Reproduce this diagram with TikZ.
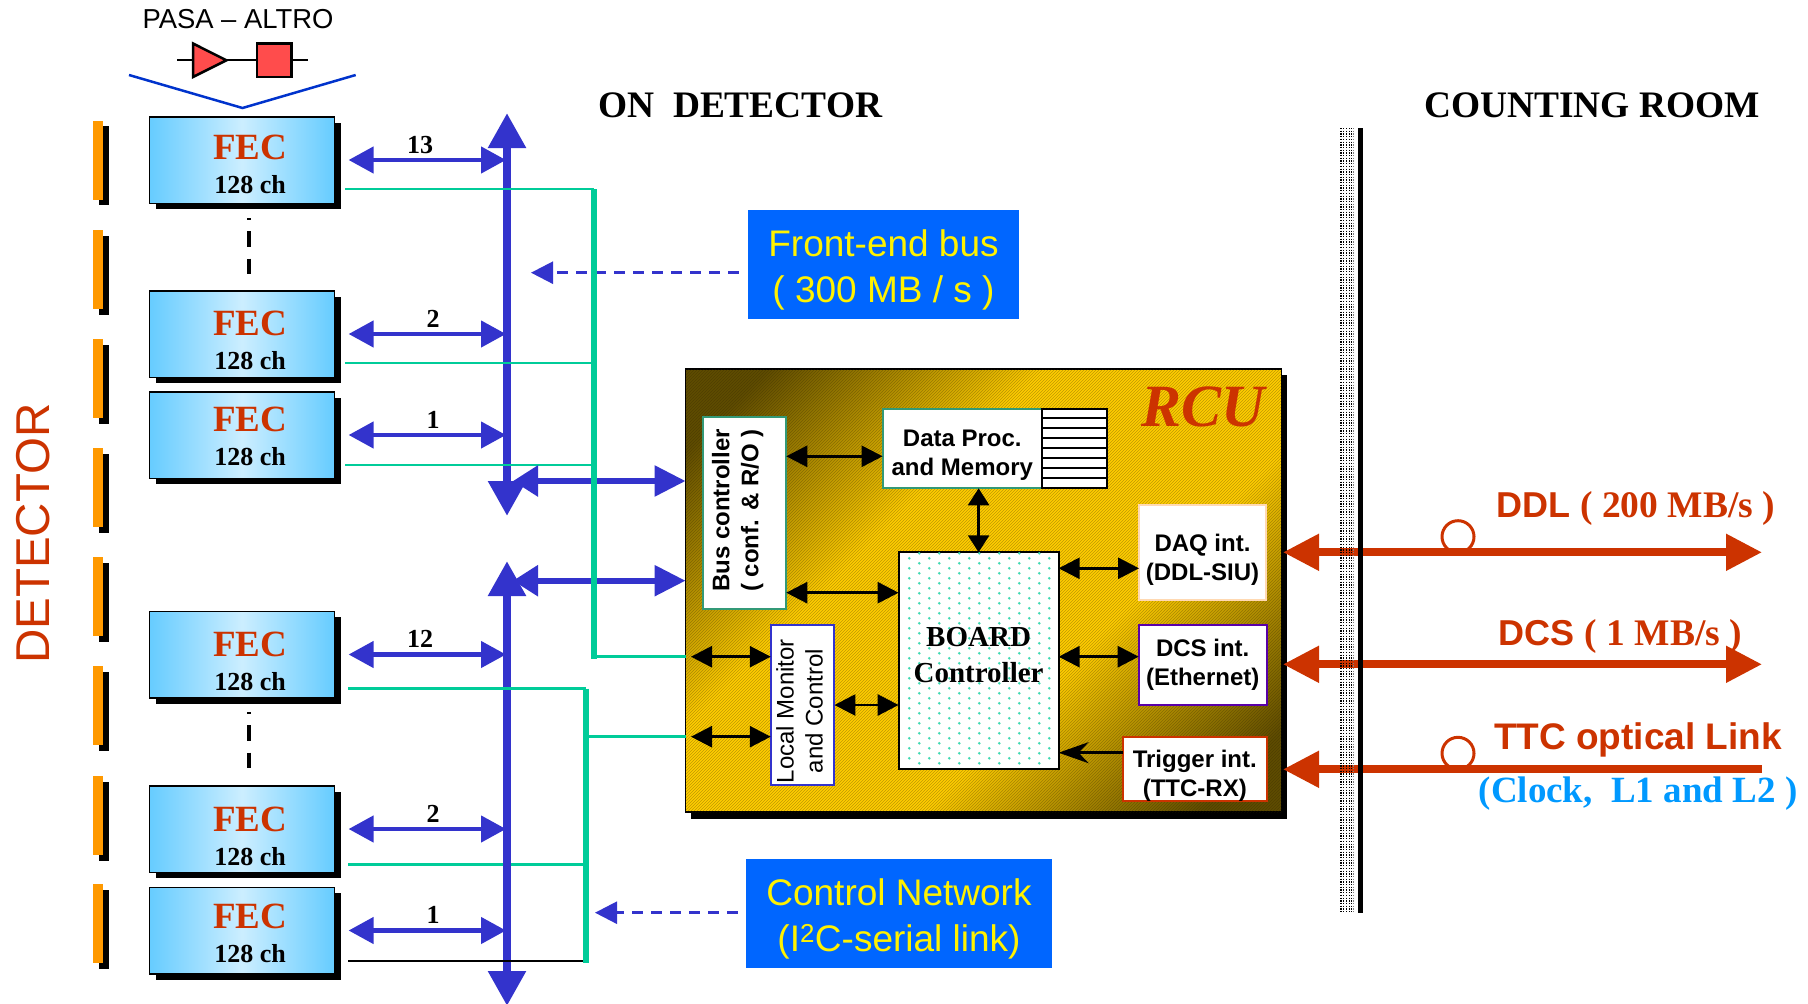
\documentclass[tikz,border=0pt]{standalone}
\usepackage{fontspec}
\setmainfont{Liberation Sans}
\newfontfamily\timesfont{Liberation Serif}
\usetikzlibrary{arrows.meta,patterns}
\definecolor{busblue}{HTML}{3333CC}
\definecolor{vblue}{HTML}{0033CC}
\definecolor{linkgreen}{HTML}{00CC99}
\definecolor{linkred}{HTML}{CC3300}
\definecolor{clockblue}{HTML}{0099FF}
\definecolor{stripeorange}{HTML}{FF9900}
\definecolor{boxblue}{HTML}{0066FF}
\definecolor{fecdeep}{HTML}{66CCFF}
\definecolor{feclight}{HTML}{CCEEFF}
\definecolor{rcugold}{HTML}{FFCC00}
\definecolor{rcudark}{HTML}{5F4C00}
\definecolor{boxgreen}{HTML}{339977}
\pgfdeclarehorizontalshading{rcugrad}{100bp}{color(0bp)=(rcudark); color(20bp)=(rcudark); color(39bp)=(rcugold); color(61bp)=(rcugold); color(80bp)=(rcudark); color(100bp)=(rcudark)}
\newcommand{\sizept}[2]{\fontsize{#1}{#2}\selectfont}
\begin{document}
\begin{tikzpicture}[x=1pt,y=-1pt,line join=miter]
\tikzstyle{fec box} = [draw=black,line width=1.5pt,minimum width=185pt,minimum height=86.5pt,inner sep=0pt,outer sep=0pt,left color=fecdeep,right color=fecdeep,middle color=feclight]
\tikzstyle{fec title} = [anchor=base,inner sep=0pt,text=linkred,font=\timesfont\bfseries\sizept{37}{40}]
\tikzstyle{fec ch} = [anchor=base,inner sep=0pt,font=\timesfont\bfseries\sizept{26}{30}]
\tikzstyle{count} = [anchor=base,inner sep=0pt,font=\timesfont\bfseries\sizept{26}{30}]
\tikzstyle{link arrow} = [busblue,line width=4.5pt,{Triangle[length=25pt,width=26pt]}-{Triangle[length=25pt,width=26pt]}]
\tikzstyle{main bus} = [busblue,line width=8.5pt,{Triangle[length=35pt,width=36pt]}-{Triangle[length=35pt,width=36pt]}]
\tikzstyle{rcu bus} = [busblue,line width=5.7pt,{Triangle[length=25pt,width=30pt]}-{Triangle[length=31pt,width=30pt]}]
\tikzstyle{thin green} = [linkgreen,line width=2.7pt]
\tikzstyle{thick green} = [linkgreen,line width=5.3pt]
\tikzstyle{dash arrow} = [busblue,line width=2.6pt,dash pattern=on 11pt off 8pt,-{Triangle[length=22pt,width=22pt]}]
\tikzstyle{info box} = [fill=boxblue,inner sep=0pt,minimum height=109pt]
\tikzstyle{info text} = [text=yellow,align=center,inner sep=0pt,font=\sizept{37}{46}]
\tikzstyle{white box} = [fill=white,draw,line width=2pt,inner sep=0pt,outer sep=0pt]
\tikzstyle{box text} = [align=center,inner sep=0pt,font=\bfseries\sizept{24}{29}]
\tikzstyle{black arrow} = [black,line width=2.7pt,{Triangle[length=21pt,width=21pt]}-{Triangle[length=21pt,width=21pt]}]
\tikzstyle{red arrow} = [linkred,line width=8pt,{Triangle[length=36pt,width=35pt]}-{Triangle[length=36pt,width=35pt]}]
\tikzstyle{ring} = [circle,draw=linkred,line width=3pt,minimum size=32pt,inner sep=0pt]
\tikzstyle{red label} = [anchor=base west,inner sep=0pt,text=linkred,font=\bfseries\sizept{37}{40}]
\useasboundingbox (0,0) rectangle (1808,1004);

% left side
\node[anchor=base,inner sep=0pt,font=\sizept{27.4}{30}] (pasa) at (238,28) {PASA -- ALTRO};
\coordinate (chainL) at (177,60.3);
\coordinate (chainR) at (307.5,60.3);
\draw[black,line width=2pt] (chainL) -- (chainR);
\draw[black,line width=2.5pt,fill=red!70!white] (193,43.5) -- (226.4,60.3) -- (193,77) -- cycle;
\draw[black,line width=2.5pt,fill=red!70!white] (257,43.5) rectangle (291.4,77);
\draw[vblue,line width=2.5pt] (129,75) -- (242.5,108) -- (355.7,75);
\node[rotate=90,anchor=base,inner sep=0pt,text=linkred,font=\sizept{47.5}{50}] (detector) at (49,533.5) {DETECTOR};

\foreach \t in {120.5,230,339,448,557,666,776,884} {
  \fill[black] (98.7,\t+5.5) rectangle +(10,79);
  \fill[stripeorange] (93.3,\t) rectangle +(10,79);
}

\coordinate (busAtop) at (507,113);
\coordinate (busAbot) at (507,516);
\coordinate (busBtop) at (507,561);
\coordinate (busBbot) at (507,1006);
\coordinate (trunkA) at (594,189);
\coordinate (trunkB) at (586,688.7);

\foreach \i/\cy/\ty/\num/\lx/\gx/\gy in {1/160/159/13/420/345/189,2/334/335/2/433/345/363,3/435/431.7/1/433/345/465,4/654.5/656/12/420/348/688.7,5/829/831.5/2/433/348/864.7,6/930.5/928.5/1/433/348/961} {
  \fill[black] (155.6,\cy-37.3) rectangle (340.6,\cy+49.3);
  \node[fec box] (fec\i) at (242,\cy) {};
  \node[fec title] (fectitle\i) at (250,\ty) {FEC};
  \node[fec ch] (fecch\i) at (250,\ty+34) {128 ch};
  \coordinate (linkL\i) at (348.6,\cy);
  \coordinate (linkR\i) at (506,\cy);
  \coordinate (gnd\i) at (\gx,\gy);
  \node[count] (num\i) at (\lx,\cy-7) {\num};
}
\draw[black,line width=3.6pt,dash pattern=on 15.7pt off 11.6pt,dash phase=14pt] (249,218) -- (249,277);
\draw[black,line width=3.6pt,dash pattern=on 15.7pt off 11.6pt,dash phase=14pt] (249,712) -- (249,771);

\node[info box,minimum width=271pt] (febus) at (883.5,264.5) {};
\node[info box,minimum width=306pt] (ctrlnet) at (899,913.5) {};
\node[info text] (febustext) at (883.5,270) {Front-end bus\\( 300 MB / s )};
\node[info text] (ctrlnettext) at (899,918.5) {Control Network\\(I\textsuperscript{2}C-serial link)};
\coordinate (febusTip) at (531,272.7);
\coordinate (ctrlnetTip) at (595,912.7);
\draw[dash arrow] ([xshift=-9pt]febus.west |- febusTip) -- (febusTip);
\draw[dash arrow] ([xshift=-8pt]ctrlnet.west |- ctrlnetTip) -- (ctrlnetTip);

\draw[thin green] (gnd5) -- (trunkB |- gnd5);
\draw[main bus] (busAtop) -- (busAbot);
\draw[main bus] (busBtop) -- (busBbot);
\foreach \i in {1,...,6} \draw[link arrow] (linkL\i) -- (linkR\i);
\foreach \i in {1,2,3} \draw[thin green] (gnd\i) -- (trunkA |- gnd\i);
\draw[thin green] (gnd4) -- (trunkB |- gnd4);
\draw[black,line width=2pt] (gnd6) -- (trunkB |- gnd6);

% RCU
\fill[black] (691,375) rectangle (1287,818.7);
\node[draw=black,line width=1.5pt,minimum width=596pt,minimum height=443pt,inner sep=0pt,outer sep=0pt,shading=rcugrad,shading angle=-45] (rcu) at (983.5,590.5) {};
\fill[pattern=north east lines,pattern color=black!55!rcudark,opacity=.3] (rcu.south west) rectangle (rcu.north east);
\node[anchor=base east,inner sep=0pt,text=linkred,font=\timesfont\bfseries\itshape\sizept{60}{62}] (rcutitle) at (1265,426) {RCU};

\coordinate (upA) at (513,481);
\coordinate (upB) at (513,580.7);
\draw[rcu bus] (upA) -- (rcu.west |- upA);
\draw[rcu bus] (upB) -- (rcu.west |- upB);
\coordinate (stubA) at (691,656.7);
\coordinate (stubB) at (691,736.7);

\draw[thick green] (trunkA) -- (trunkA |- 0,659.3);
\draw[thin green] (trunkA |- stubA) -- (rcu.west |- stubA);
\draw[thick green] (trunkB) -- (trunkB |- 0,962.7);
\draw[thin green] (trunkB |- stubB) -- (rcu.west |- stubB);

\node[white box,draw=boxgreen,rotate=90,minimum width=192pt,minimum height=83.3pt] (busctrl) at (744.6,512.7) {};
\node[box text,rotate=90,align=left] (busctrltext) at (737.6,510.5) {Bus controller\\( conf. \& R/O )};
\node[white box,draw=busblue,rotate=90,minimum width=160pt,minimum height=63.7pt] (local) at (802.6,705) {};
\node[box text,rotate=90,font=\sizept{24}{29}] (localtext) at (799.6,711) {Local Monitor\\and Control};
\node[white box,draw=boxgreen,minimum width=159.4pt,minimum height=79.6pt] (dataproc) at (962.3,448.5) {};
\node[box text] (dataproctext) at (962.3,455.5) {Data Proc.\\and Memory};
\node[draw=black,line width=2pt,fill=white,minimum width=64.7pt,minimum height=79.6pt,inner sep=0pt,outer sep=0pt] (memory) at (1074.4,448.5) {};
\foreach \y in {418.3,428.3,438.3,448.3,458.3,468.3,477.8} \draw[black,line width=1.8pt] (memory.west |- 0,\y) -- (memory.east |- 0,\y);
\node[draw=black,line width=2pt,fill=white,minimum width=160pt,minimum height=216.4pt,inner sep=0pt,outer sep=0pt] (board) at (978.6,660.5) {};
\foreach \yy [count=\r] in {553.3,558.3,...,766} {
  \pgfmathsetmacro{\xs}{isodd(\r)?919.3:909.3}
  \pgfmathsetmacro{\xn}{\xs+20}
  \foreach \xx in {\xs,\xn,...,1056} \fill[linkgreen!75!white] (\xx,\yy) circle (1.4pt);
}
\node[inner sep=0pt,align=center,font=\timesfont\bfseries\sizept{29}{35.7}] (boardtext) at (978.6,655) {BOARD\\Controller};
\node[white box,draw=orange!30!white,minimum width=127pt,minimum height=94.7pt] (daq) at (1202.5,552.3) {};
\node[box text] (daqtext) at (1202.5,559.3) {DAQ int.\\(DDL-SIU)};
\node[white box,draw=violet!70!blue,minimum width=128pt,minimum height=80pt] (dcs) at (1202.7,664.7) {};
\node[box text] (dcstext) at (1202.7,665) {DCS int.\\(Ethernet)};
\node[white box,draw=linkred,minimum width=143.7pt,minimum height=63.7pt] (trigger) at (1194.8,769) {};
\node[box text] (triggertext) at (1194.8,776) {Trigger int.\\(TTC-RX)};

\draw[black arrow] (busctrl.south |- 0,456.3) -- (dataproc.west |- 0,456.3);
\draw[black arrow,{Triangle[length=17pt,width=21pt]}-{Triangle[length=17pt,width=21pt]}] (board.north |- dataproc.south) -- (board.north);
\draw[black arrow] (busctrl.south |- 0,592.7) -- (board.west |- 0,592.7);
\draw[black arrow] (board.east |- 0,568.3) -- (daq.west |- 0,568.3);
\draw[black arrow] (board.east |- 0,656.7) -- (dcs.west |- 0,656.7);
\draw[black arrow] (local.south |- 0,705) -- (board.west |- 0,705);
\draw[black arrow] (stubA) -- (local.north |- stubA);
\draw[black arrow] (stubB) -- (local.north |- stubB);
\draw[black,line width=2.7pt,-{Stealth[length=30pt,width=21pt,inset=10pt]}] (trigger.west |- 0,752.7) -- (board.east |- 0,752.7);

% right side
\node[anchor=base west,inner sep=0pt,font=\timesfont\bfseries\sizept{37.4}{40}] (ondet) at (598,117) {ON\ \ DETECTOR};
\node[anchor=base west,inner sep=0pt,font=\timesfont\bfseries\sizept{37.4}{40}] (room) at (1424,117) {COUNTING ROOM};

\node[ring] (ddlring) at (1458,536.7) {};
\node[ring] (ttcring) at (1458,753.3) {};
\coordinate (ddlL) at (1283,552.3);
\coordinate (dcsL) at (1283,664.3);
\coordinate (ttcL) at (1283,769.3);
\coordinate (ddlR) at (1762,552.3);
\coordinate (dcsR) at (1762,664.3);
\coordinate (ttcR) at (1762,769.3);
\draw[red arrow] (ddlL) -- (ddlR);
\draw[red arrow] (dcsL) -- (dcsR);
\draw[linkred,line width=8pt,{Triangle[length=36pt,width=35pt]}-] (ttcL) -- (ttcR);

\foreach \x in {1341,1343.7,1346.4,1349.1,1351.8} \draw[black,line width=1.2pt,dash pattern=on 1.3pt off 1.4pt] (\x,128) -- (\x,913);
\draw[gray,line width=1.2pt,dash pattern=on 1.3pt off 1.4pt] (1353.5,128) -- (1353.5,913);
\fill[black] (1358,128) rectangle (1363,913);

\node[red label,font=\bfseries\sizept{36}{40}] (ddl) at (1496,517.3) {DDL {\timesfont\sizept{37.5}{40}( 200 MB/s )}};
\node[red label,font=\bfseries\sizept{36}{40}] (dcslabel) at (1498.7,645) {DCS {\timesfont\sizept{37.5}{40}( 1 MB/s )}};
\node[red label] (ttc) at (1494,749.3) {TTC optical Link};
\node[anchor=base west,inner sep=0pt,text=clockblue,font=\timesfont\bfseries\sizept{37}{40}] (clock) at (1478.5,802.7) {(Clock,\ \ L1 and L2 )};
\end{tikzpicture}
\end{document}
